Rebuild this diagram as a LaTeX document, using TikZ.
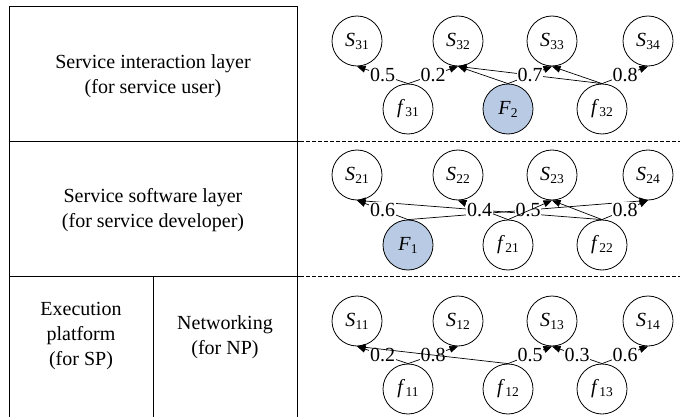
\documentclass[tikz,border=0pt]{standalone}
\usepackage{fontspec}
\setmainfont{Liberation Serif}
\usetikzlibrary{arrows.meta}
\definecolor{fblue}{RGB}{185,203,228}
\newcommand\nlab[2]{\textit{#1}\kern0.3pt\raisebox{-3pt}{\fontsize{13.5}{13.5}\selectfont #2}}
\begin{document}
\begin{tikzpicture}[x=1pt,y=-1pt,
  snode/.style={circle,draw,line width=0.8pt,minimum size=50pt,inner sep=0pt,font=\fontsize{20}{20}\selectfont},
  fnode/.style={snode,fill=fblue},
  edg/.style={line width=0.7pt,-{Triangle[length=8.5pt,width=7pt]}},
  wlab/.style={fill=white,inner sep=0.8pt,font=\fontsize{20}{20}\selectfont},
  cell/.style={align=center,font=\fontsize{20}{25}\selectfont},
  tline/.style={line width=0.8pt},
  dline/.style={line width=0.8pt,dash pattern=on 4pt off 2pt}
]
\useasboundingbox (0,0) rectangle (680,417);
% table
\draw[tline] (9,417) -- (9,6) -- (297,6) -- (297,417);
\draw[tline] (9,141.5) -- (300,141.5);
\draw[tline] (9,276.5) -- (300,276.5);
\draw[tline] (153,276.5) -- (153,417);
\draw[dline] (300,141.5) -- (680,141.5);
\draw[dline] (300,276.5) -- (680,276.5);
\node[cell] (t1) at (153,76) {Service interaction layer\\(for service user)};
\node[cell] (t2) at (153,210) {Service software layer\\(for service developer)};
\node[cell] (t3) at (81,336) {Execution\\platform\\(for SP)};
\node[cell] (t4) at (225,337) {Networking\\(for NP)};
% row 1
\node[snode] (S31) at (357,41) {\nlab{S}{31}};
\node[snode] (S32) at (458,41) {\nlab{S}{32}};
\node[snode] (S33) at (552,41) {\nlab{S}{33}};
\node[snode] (S34) at (648,41) {\nlab{S}{34}};
\node[snode] (f31) at (408,109) {\nlab{f}{31}};
\node[fnode] (F2) at (508,109) {\nlab{F}{2}};
\node[snode] (f32) at (602,109) {\nlab{f}{32}};
% row 2
\node[snode] (S21) at (357,175) {\nlab{S}{21}};
\node[snode] (S22) at (458,175) {\nlab{S}{22}};
\node[snode] (S23) at (552,175) {\nlab{S}{23}};
\node[snode] (S24) at (648,175) {\nlab{S}{24}};
\node[fnode] (F1) at (408,245) {\nlab{F}{1}};
\node[snode] (f21) at (508,245) {\nlab{f}{21}};
\node[snode] (f22) at (602,245) {\nlab{f}{22}};
% row 3
\node[snode] (S11) at (357,321) {\nlab{S}{11}};
\node[snode] (S12) at (458,321) {\nlab{S}{12}};
\node[snode] (S13) at (552,321) {\nlab{S}{13}};
\node[snode] (S14) at (648,321) {\nlab{S}{14}};
\node[snode] (f11) at (408,389) {\nlab{f}{11}};
\node[snode] (f12) at (508,389) {\nlab{f}{12}};
\node[snode] (f13) at (602,389) {\nlab{f}{13}};
% edges
\draw[edg] (f31.north) -- (S31.south);
\draw[edg] (f31.north) -- (S32.south);
\draw[edg] (F2.north) -- (S32.south);
\draw[edg] (F2.north) -- (S33.south);
\draw[edg] (f32.north) -- (S32.south);
\draw[edg] (f32.north) -- (S33.south);
\draw[edg] (f32.north) -- (S34.south);
\draw[edg] (F1.north) -- (S21.south);
\draw[edg] (F1.north) -- (S24.south);
\draw[edg] (f21.north) -- (S22.south);
\draw[edg] (f22.north) -- (S21.south);
\draw[edg] (f22.north) -- (S23.south);
\draw[edg] (f22.north) -- (S24.south);
\draw[edg] (f11.north) -- (S11.south);
\draw[edg] (f11.north) -- (S12.south);
\draw[edg] (f12.north) -- (S13.south);
\draw[edg] (f13.north) -- (S13.south);
\draw[edg] (f13.north) -- (S14.south);
% labels
\path (f31.north) -- (S31.south) node[wlab,midway] (l1) {0.5};
\path (f31.north) -- (S32.south) node[wlab,midway] (l2) {0.2};
\path (F2.north) -- (S33.south) node[wlab,midway] (l3) {0.7};
\path (f32.north) -- (S34.south) node[wlab,midway] (l4) {0.8};
\path (F1.north) -- (S21.south) node[wlab,midway] (l5) {0.6};
\path (f22.north) -- (S21.south) node[wlab,midway] (l6) {0.4};
\path (F1.north) -- (S24.south) node[wlab,midway] (l7) {0.5};
\path (f22.north) -- (S24.south) node[wlab,midway] (l8) {0.8};
\path (f11.north) -- (S11.south) node[wlab,midway] (l9) {0.2};
\path (f11.north) -- (S12.south) node[wlab,midway] (l10) {0.8};
\path (f12.north) -- (S13.south) node[wlab,midway] (l11) {0.5};
\path (f13.north) -- (S13.south) node[wlab,midway] (l12) {0.3};
\path (f13.north) -- (S14.south) node[wlab,midway] (l13) {0.6};
% unlabelled edges drawn over labels
\draw[edg] (f21.north) -- (S23.south);
\draw[edg] (f12.north) -- (S11.south);
\end{tikzpicture}
\end{document}
